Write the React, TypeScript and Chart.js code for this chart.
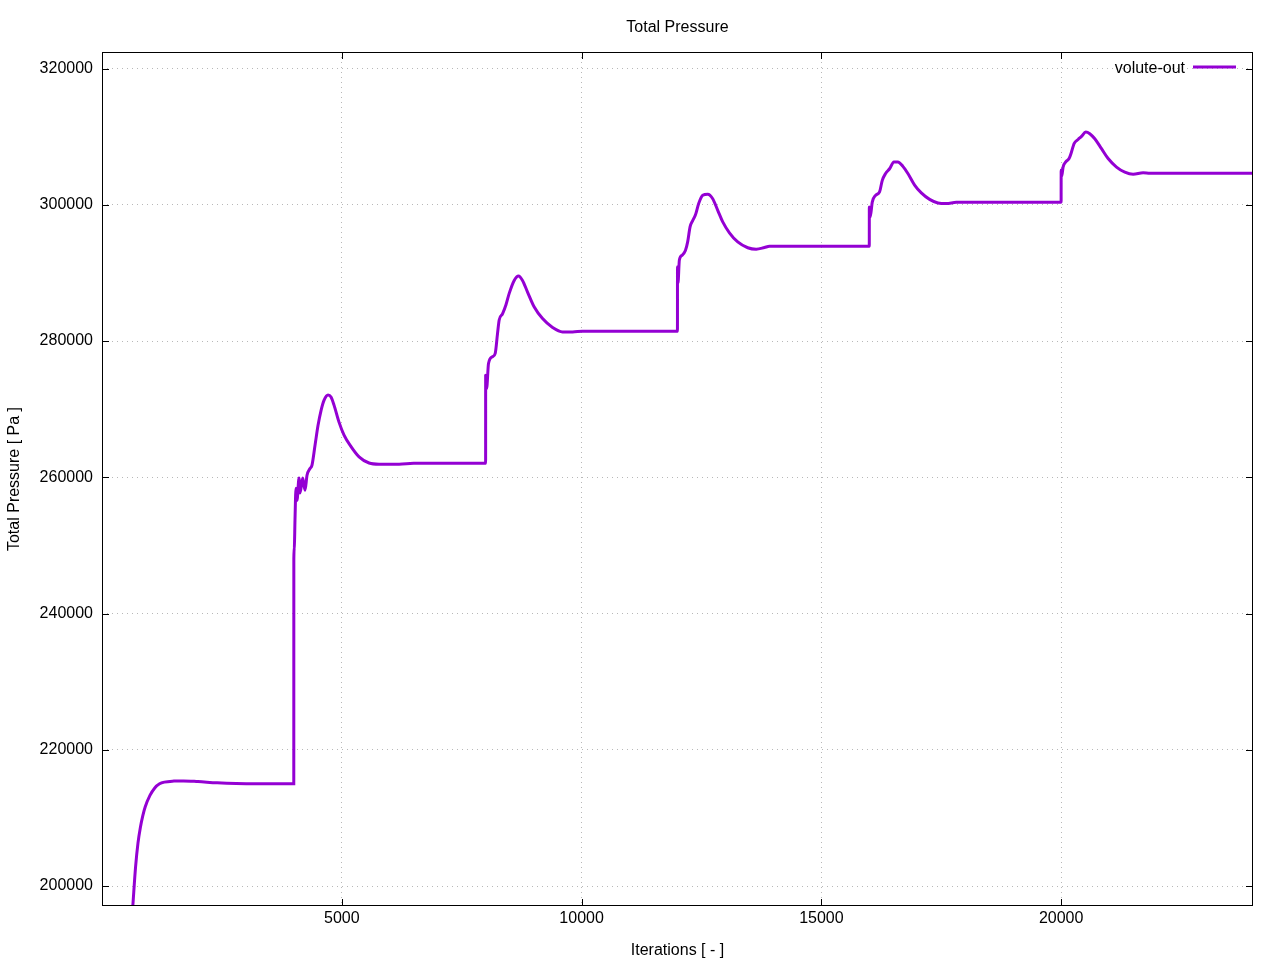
import React, { useEffect, useRef } from "react";
import { Chart, registerables } from "chart.js";

Chart.register(...registerables);

// ---- data ----
const iterations = [
  643, 700, 750, 800, 850, 900, 1000, 1100, 1200, 1300, 1500, 1700, 2000, 2400, 2800, 3200, 3999,
  4000, 4010, 4024, 4045, 4066, 4108, 4129, 4185, 4233, 4275, 4337, 4379, 4442, 4504, 4567, 4629,
  4713, 4775, 4838, 4942, 5047, 5193, 5360, 5569, 5778, 6195, 6500, 7999,
  8000, 8020, 8059, 8142, 8199, 8247, 8282, 8351, 8422, 8491, 8595, 8685, 8768, 8873, 9013, 9186,
  9395, 9603, 9812, 10021, 11999,
  12000, 12010, 12039, 12096, 12165, 12213, 12263, 12317, 12373, 12442, 12526, 12630, 12734, 12839,
  12943, 13083, 13256, 13465, 13640, 13813, 13918, 15999,
  16000, 16019, 16061, 16130, 16213, 16270, 16339, 16422, 16512, 16595, 16700, 16804, 16944, 17084,
  17257, 17430, 17606, 17814, 19999,
  20000, 20012, 20040, 20096, 20165, 20215, 20269, 20353, 20424, 20513, 20597, 20701, 20841, 20979,
  21154, 21327, 21501, 21709, 21849, 24000,
];

const totalPressure = [
  197109, 202800, 206300, 208600, 210300, 211600, 213300, 214400, 215000, 215250, 215400, 215430,
  215330, 215150, 215040, 215000, 215000,
  248000, 249600, 253700, 258400, 256600, 259900, 257700, 259900, 258100, 260300, 261300, 261800,
  264700, 267600, 269800, 271300, 272100, 271800, 270600, 268100, 266200, 264500, 263000, 262100,
  261930, 261930, 262050, 262050,
  275000, 273000, 276700, 277700, 278200, 281100, 283100, 284000, 285300, 287000, 288900, 289550,
  288900, 287200, 285000, 283300, 282000, 281350, 281350, 281450, 281450,
  290900, 288500, 291900, 292600, 293300, 294600, 296800, 297700, 298500, 300200, 301400, 301550,
  300900, 299200, 297500, 295900, 294550, 293700, 293480, 293730, 293920, 293920,
  299700, 298200, 300400, 301400, 301900, 303600, 304600, 305300, 306300, 306300, 305650, 304600,
  302900, 301750, 300800, 300280, 300190, 300380, 300380,
  305100, 304200, 305550, 306300, 306800, 307750, 309000, 309600, 310050, 310700, 310450, 309700,
  308250, 306800, 305550, 304800, 304480, 304700, 304640, 304640,
];

const xTicks = [5000, 10000, 15000, 20000];
const yTicks = [200000, 220000, 240000, 260000, 280000, 300000, 320000];
const xRange = [0, 24000];
const yRange = [197065, 322440];

const seriesLabel = "volute-out";
const chartTitle = "Total Pressure";
const xTitle = "Iterations [ - ]";
const yTitle = "Total Pressure [ Pa ]";

const FONT = "'Liberation Sans', Arial, Helvetica, sans-serif";
const LINE_COLOR = "#9400d3";
const GRID_COLOR = "#b8b8b8";
const TICK_LEN = 7;

const framePlugin = {
  id: "gnuplotFrame",
  afterDatasetsDraw(chart: any) {
    const { ctx, chartArea } = chart;
    const { left, right, top, bottom } = chartArea;
    const xs = chart.scales.x;
    const ys = chart.scales.y;
    ctx.save();
    ctx.strokeStyle = "#000";
    ctx.lineWidth = 1;
    ctx.setLineDash([]);
    ctx.strokeRect(Math.round(left) + 0.5, Math.round(top) + 0.5, Math.round(right - left) - 1, Math.round(bottom - top) - 1);
    ctx.beginPath();
    xTicks.forEach((v) => {
      const px = Math.round(xs.getPixelForValue(v)) + 0.5;
      ctx.moveTo(px, bottom);
      ctx.lineTo(px, bottom - TICK_LEN);
      ctx.moveTo(px, top);
      ctx.lineTo(px, top + TICK_LEN);
    });
    yTicks.forEach((v) => {
      const py = Math.round(ys.getPixelForValue(v)) + 0.5;
      ctx.moveTo(left, py);
      ctx.lineTo(left + TICK_LEN, py);
      ctx.moveTo(right, py);
      ctx.lineTo(right - TICK_LEN, py);
    });
    ctx.stroke();

    // legend (top right, gnuplot style)
    const ly = top + 15;
    const lineEnd = right - 17;
    const lineStart = lineEnd - 43;
    ctx.font = `16px ${FONT}`;
    ctx.fillStyle = "#000";
    ctx.textAlign = "right";
    ctx.textBaseline = "middle";
    ctx.fillText(seriesLabel, lineStart - 8, ly + 2);
    ctx.strokeStyle = LINE_COLOR;
    ctx.lineWidth = 3;
    ctx.beginPath();
    ctx.moveTo(lineStart, ly);
    ctx.lineTo(lineEnd, ly);
    ctx.stroke();
    ctx.restore();
  },
};

export default function App() {
  const canvasRef = useRef<HTMLCanvasElement | null>(null);

  useEffect(() => {
    const canvas = canvasRef.current;
    if (!canvas) return;
    const points = iterations.map((x, i) => ({ x, y: totalPressure[i] }));
    const chart = new Chart(canvas, {
      type: "line",
      data: {
        datasets: [
          {
            label: seriesLabel,
            data: points,
            borderColor: LINE_COLOR,
            backgroundColor: LINE_COLOR,
            borderWidth: 3,
            pointRadius: 0,
            cubicInterpolationMode: "monotone",
            fill: false,
          },
        ],
      },
      options: {
        responsive: false,
        animation: false,
        devicePixelRatio: 1,
        layout: { padding: { left: 0, right: 27, top: 0, bottom: 0 } },
        plugins: {
          legend: { display: false },
          tooltip: { enabled: false },
          title: {
            display: true,
            text: chartTitle,
            fullSize: false,
            color: "#000",
            font: { family: FONT, size: 16, weight: "normal" },
            padding: { top: 18, bottom: 14.8 },
          },
        },
        scales: {
          x: {
            type: "linear",
            min: xRange[0],
            max: xRange[1],
            afterBuildTicks: (scale: any) => {
              scale.ticks = xTicks.map((v) => ({ value: v }));
            },
            afterFit: (scale: any) => {
              scale.height = 54;
            },
            ticks: {
              color: "#000",
              padding: 3,
              maxRotation: 0,
              autoSkip: false,
              font: { family: FONT, size: 16 },
              callback: (v: any) => String(v),
            },
            grid: { color: GRID_COLOR, lineWidth: 1, drawTicks: false, tickLength: 0 },
            border: { display: false, dash: [1, 4] },
            title: {
              display: true,
              text: xTitle,
              color: "#000",
              font: { family: FONT, size: 16 },
              padding: { top: 0, bottom: 0 },
            },
          },
          y: {
            type: "linear",
            min: yRange[0],
            max: yRange[1],
            afterBuildTicks: (scale: any) => {
              scale.ticks = yTicks.map((v) => ({ value: v }));
            },
            afterFit: (scale: any) => {
              scale.width = 102;
            },
            ticks: {
              color: "#000",
              padding: 9,
              autoSkip: false,
              font: { family: FONT, size: 16 },
              callback: (v: any) => String(v),
            },
            grid: { color: GRID_COLOR, lineWidth: 1, drawTicks: false, tickLength: 0 },
            border: { display: false, dash: [1, 4] },
            title: {
              display: true,
              text: yTitle,
              color: "#000",
              font: { family: FONT, size: 16 },
              padding: { top: 5, bottom: 0 },
            },
          },
        },
      },
      plugins: [framePlugin],
    } as any);
    return () => chart.destroy();
  }, []);

  return (
    <div style={{ position: "absolute", left: 0, top: 0, width: 1280, height: 960, background: "#fff" }}>
      <canvas ref={canvasRef} width={1280} height={960} style={{ display: "block" }} />
    </div>
  );
}
